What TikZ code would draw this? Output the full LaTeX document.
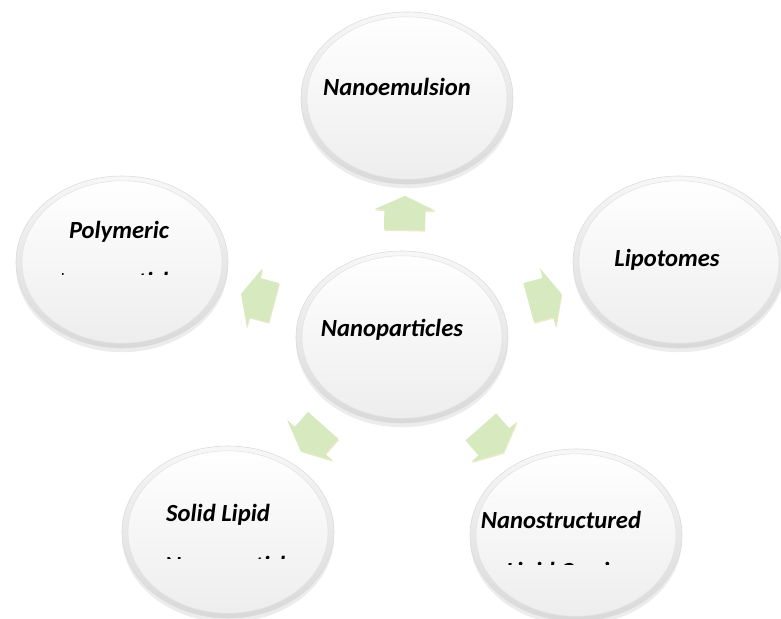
\documentclass[tikz,border=0pt]{standalone}
\usepackage{fontspec}
\setmainfont{Carlito}
\usetikzlibrary{shapes.geometric,shapes.arrows,shadows}

\tikzset{
  bubble/.style={ellipse, minimum width=5.3cm, minimum height=4.3cm, inner sep=0pt,
    draw=gray!28, top color=gray!6, bottom color=gray!30,
    drop shadow={opacity=0.15, shadow xshift=0pt, shadow yshift=-3pt},
    path picture={\shade[top color=white, bottom color=gray!14, draw=gray!22]
      (path picture bounding box.center) ellipse [x radius=2.5cm, y radius=2.03cm];}},
  bubtext/.style={font=\fontsize{17.5}{21}\selectfont\bfseries\itshape, inner sep=0pt},
  grarrow/.style={single arrow, sloped, allow upside down, draw=none,
    fill=green!30!olive!25, inner xsep=0pt, inner ysep=0.5cm,
    minimum height=0.85cm, single arrow head extend=0.25cm, single arrow tip angle=130,
    drop shadow={fill=olive!60, opacity=0.3, shadow xshift=0.5pt, shadow yshift=-1pt}}
}

\begin{document}
\begin{tikzpicture}[x=0.025cm,y=-0.025cm]

\useasboundingbox (0,0) rectangle (781,618);

% the six bubbles
\node[bubble] (ne)   at (407,98)  {};
\node[bubble] (poly) at (122,262) {};
\node[bubble] (lipo) at (679,262) {};
\node[bubble] (np)   at (402,337) {};
\node[bubble] (sl)   at (228,532) {};
\node[bubble] (ns)   at (576,535) {};

% arrows out of the centre
\foreach \to in {ne,poly,lipo,sl,ns}
{
    \path (np) -- node[grarrow] (arr-\to) {} (\to);
}

\node[bubtext] (neT)   at (397,87)  {Nanoemulsion};
\node[bubtext] (polyT) at (119,232) {Polymeric};
\node[bubtext] (lipoT) at (667,260) {Lipotomes};
\node[bubtext] (npT)   at (392,330) {Nanoparticles};
\node[bubtext] (slT)   at (218,515) {Solid Lipid};
\node[bubtext] (nsT)   at (561,520) {Nanostructured};

% second lines, cut off by their text boxes
\begin{scope}
\clip (62,271) rectangle (176,274);
\node[bubtext, anchor=base] (polyT2) at (119,289) {Nanoparticles};
\end{scope}
\begin{scope}
\clip (150,555) rectangle (290,558);
\node[bubtext, anchor=base] (slT2) at (236,573) {Nanoparticles};
\end{scope}
\begin{scope}
\clip (480,561) rectangle (660,564);
\node[bubtext, anchor=base] (nsT2) at (573,579) {Lipid Carriers};
\end{scope}

\end{tikzpicture}
\end{document}
